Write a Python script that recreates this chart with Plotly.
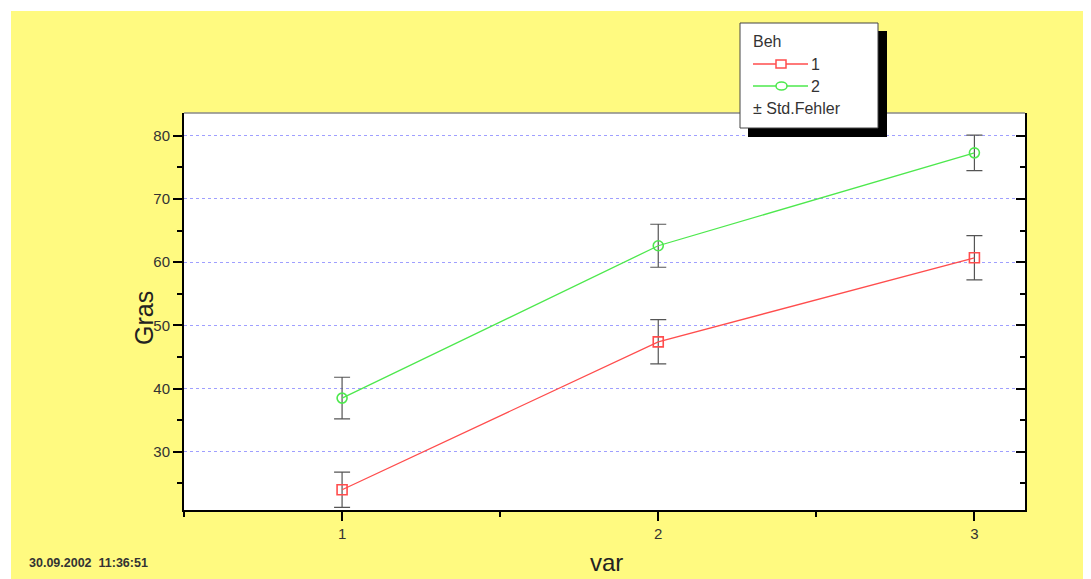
import plotly.graph_objects as go

# Data
var_x = [1, 2, 3]
beh1_mean = [24.0, 47.4, 60.7]
beh1_se = [2.8, 3.5, 3.5]
beh2_mean = [38.5, 62.6, 77.3]
beh2_se = [3.3, 3.4, 2.8]
y_ticks = [30, 40, 50, 60, 70, 80]
x_ticks = [1, 2, 3]

OFF = 8  # page body margin
W, H = 1091 - OFF, 579 - OFF
L, R, T, B = 184, 1025, 113, 510  # page pixel positions of plot area
pw, ph = R - L, B - T

def px(x):
    return (x - L) / pw

def py(y):
    return (B - y) / ph

FONT = "Liberation Sans, Arial, sans-serif"
RED = "#ff4d4d"
GREEN = "#4de84d"
ERR = "#555555"

fig = go.Figure()

fig.add_trace(go.Scatter(
    x=var_x, y=beh1_mean, mode="lines+markers", name="1",
    line=dict(color=RED, width=1.3),
    marker=dict(symbol="square-open", size=10, color=RED, line=dict(width=1.6)),
    error_y=dict(type="data", array=beh1_se, color=ERR, thickness=1.2, width=8),
    showlegend=False,
))
fig.add_trace(go.Scatter(
    x=var_x, y=beh2_mean, mode="lines+markers", name="2",
    line=dict(color=GREEN, width=1.3),
    marker=dict(symbol="circle-open", size=10, color=GREEN, line=dict(width=1.6)),
    error_y=dict(type="data", array=beh2_se, color=ERR, thickness=1.2, width=8),
    showlegend=False,
))
# invisible trace to carry the right-side axis
fig.add_trace(go.Scatter(
    x=var_x, y=beh2_mean, yaxis="y2", mode="markers",
    marker=dict(opacity=0), hoverinfo="skip", showlegend=False,
))

shapes = []
# yellow page background
shapes.append(dict(type="rect", xref="paper", yref="paper",
                   x0=px(11), x1=px(1100), y0=py(590), y1=py(11),
                   fillcolor="#fffa80", line=dict(width=0), layer="below"))
# white plot area
shapes.append(dict(type="rect", xref="paper", yref="paper",
                   x0=0, x1=1, y0=0, y1=1,
                   fillcolor="white", line=dict(width=0), layer="below"))
# top border
shapes.append(dict(type="line", xref="paper", yref="paper",
                   x0=0, x1=1, y0=1, y1=1, line=dict(color="#888888", width=1.5)))
# legend shadow + box
shapes.append(dict(type="rect", xref="paper", yref="paper",
                   x0=px(748), x1=px(887), y0=py(137), y1=py(31),
                   fillcolor="black", line=dict(width=0)))
shapes.append(dict(type="rect", xref="paper", yref="paper",
                   x0=px(740), x1=px(878), y0=py(128), y1=py(23),
                   fillcolor="white", line=dict(color="#444444", width=1)))
# legend symbols
for yy, col in [(64, RED), (86, GREEN)]:
    shapes.append(dict(type="line", xref="paper", yref="paper",
                       x0=px(753), x1=px(808), y0=py(yy), y1=py(yy),
                       line=dict(color=col, width=1.3)))
shapes.append(dict(type="rect", xref="paper", yref="paper",
                   x0=px(776), x1=px(786), y0=py(68), y1=py(60),
                   fillcolor="white", line=dict(color=RED, width=1.5)))
shapes.append(dict(type="circle", xref="paper", yref="paper",
                   x0=px(776), x1=px(787), y0=py(90), y1=py(82),
                   fillcolor="white", line=dict(color=GREEN, width=1.5)))

LF = dict(family=FONT, size=16, color="#333333")
annotations = [
    dict(text="Beh", x=px(751), y=py(41), xref="paper", yref="paper",
         xanchor="left", yanchor="middle", showarrow=False, font=LF),
    dict(text="1", x=px(809), y=py(65), xref="paper", yref="paper",
         xanchor="left", yanchor="middle", showarrow=False, font=LF),
    dict(text="2", x=px(809), y=py(87), xref="paper", yref="paper",
         xanchor="left", yanchor="middle", showarrow=False, font=LF),
    dict(text="± Std.Fehler", x=px(751), y=py(109), xref="paper", yref="paper",
         xanchor="left", yanchor="middle", showarrow=False, font=LF),
    dict(text="Gras", x=px(144), y=py(318), xref="paper", yref="paper",
         xanchor="center", yanchor="middle", textangle=-90, showarrow=False,
         font=dict(family=FONT, size=25, color="#222222")),
    dict(text="var", x=px(606), y=py(562), xref="paper", yref="paper",
         xanchor="center", yanchor="middle", showarrow=False,
         font=dict(family=FONT, size=24, color="#222222")),
    dict(text="<b>30.09.2002  11:36:51</b>", x=px(27), y=py(563), xref="paper", yref="paper",
         xanchor="left", yanchor="middle", showarrow=False,
         font=dict(family=FONT, size=12.5, color="#333333")),
]

fig.update_layout(
    width=W, height=H,
    margin=dict(l=L - OFF, r=1091 - R, t=T - OFF, b=579 - B, pad=0),
    paper_bgcolor="white", plot_bgcolor="rgba(0,0,0,0)",
    shapes=shapes, annotations=annotations,
    showlegend=False,
    xaxis=dict(range=[0.5, 3.16], tickvals=x_ticks, ticktext=[str(v) for v in x_ticks],
               showgrid=False, zeroline=False, showline=True, linecolor="black", linewidth=2,
               ticks="outside", ticklen=9, tickwidth=2, tickcolor="black",
               minor=dict(tickvals=[0.5, 1.5, 2.5], ticks="outside", ticklen=5, tickwidth=1.5,
                          tickcolor="black", showgrid=False),
               tickfont=dict(family=FONT, size=15, color="#333333")),
    yaxis=dict(range=[20.8, 83.6], tickvals=y_ticks,
               showgrid=True, gridcolor="#9f9fff", gridwidth=1, griddash="dot",
               zeroline=False, showline=True, linecolor="black", linewidth=2,
               ticks="outside", ticklen=9, tickwidth=2, tickcolor="black",
               minor=dict(dtick=5, tick0=25, ticks="outside", ticklen=5, tickwidth=1.5,
                          tickcolor="black", showgrid=False),
               tickfont=dict(family=FONT, size=15, color="#333333")),
    yaxis2=dict(range=[20.8, 83.6], overlaying="y", side="right", tickvals=y_ticks,
                showticklabels=False, showgrid=False, zeroline=False,
                showline=True, linecolor="black", linewidth=2,
                ticks="inside", ticklen=9, tickwidth=2, tickcolor="black",
                minor=dict(dtick=5, tick0=25, ticks="inside", ticklen=5, tickwidth=1.5,
                           tickcolor="black", showgrid=False)),
)

fig.write_html("out.html")
